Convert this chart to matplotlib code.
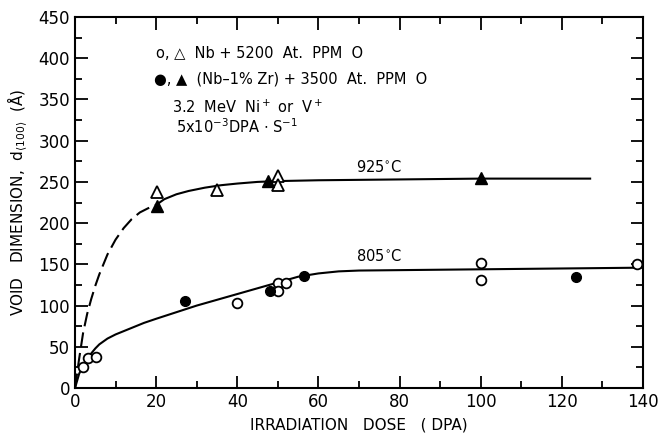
import numpy as np
import matplotlib
matplotlib.use("Agg")
import matplotlib.pyplot as plt

# open circles: Nb + 5200 at. ppm O, 805 C
nb_805_x = [2, 3.2, 5.2, 40, 50, 50, 52, 100, 100, 138.5]
nb_805_y = [25, 37, 38, 103, 128, 118, 127, 152, 131, 151]
# filled circles: (Nb-1% Zr) + 3500 at. ppm O, 805 C
zr_805_x = [27, 48, 56.5, 123.5]
zr_805_y = [106, 118, 136, 135]
# open triangles: Nb, 925 C
nb_925_x = [20.3, 35, 50, 50]
nb_925_y = [238, 240, 257, 246]
# filled triangles: Nb-1%Zr, 925 C
zr_925_x = [20.3, 47.5, 100]
zr_925_y = [221, 251, 255]

# hand-drawn trend lines
c925_dash_x = [0, 1, 2, 3, 4, 5, 6, 7, 8, 10, 12, 14, 16, 18, 20]
c925_dash_y = [0, 35, 67, 90, 108, 124, 138, 150, 162, 180, 194, 205, 213, 218, 222]
c925_x = [20, 22, 25, 28, 32, 36, 40, 45, 50, 60, 80, 100, 127]
c925_y = [222, 229, 235, 239, 243, 246, 248, 250, 251, 252, 253, 254, 254]
c805_x = [0, 1, 2, 3, 4, 5, 6, 8, 10, 13, 17, 20, 25, 30, 35, 40, 45, 50, 55,
          60, 65, 70, 80, 100, 140]
c805_y = [0, 17, 28, 35, 42, 48, 53, 60, 65, 71, 79, 84, 92, 100, 107, 114, 121,
          128, 135, 139, 141.5, 142.5, 143, 144, 146]

plt.figure(figsize=(6.58, 4.36), dpi=100)
ax = plt.axes([0.114, 0.110, 0.863, 0.851])

ax.plot(c925_dash_x, c925_dash_y, color='black', lw=1.5, ls=(0, (7, 3)))
ax.plot(c925_x, c925_y, color='black', lw=1.5)
ax.plot(c805_x, c805_y, color='black', lw=1.5)

ax.plot(nb_805_x, nb_805_y, 'o', ms=7, mfc='white', mec='black', mew=1.3, ls='none')
ax.plot(zr_805_x, zr_805_y, 'o', ms=7, mfc='black', mec='black', ls='none')
ax.plot(nb_925_x, nb_925_y, '^', ms=9, mfc='white', mec='black', mew=1.3, ls='none')
ax.plot(zr_925_x, zr_925_y, '^', ms=9, mfc='black', mec='black', ls='none')

ax.text(75, 268, '925$^{\\circ}$C', fontsize=10.5, ha='center', va='center')
ax.text(75, 160, '805$^{\\circ}$C', fontsize=10.5, ha='center', va='center')

ax.text(20, 406, 'o, \u25B3  Nb + 5200  At.  PPM  O', fontsize=10.5, va='center')
ax.text(19.5, 375, '\u25CF, \u25B2  (Nb\u20131% Zr) + 3500  At.  PPM  O', fontsize=10.5, va='center')
ax.text(24, 341, '3.2  MeV  Ni$^+$ or  V$^+$', fontsize=10.5, va='center')
ax.text(25, 317, '5x10$^{-3}$DPA $\\cdot$ S$^{-1}$', fontsize=10.5, va='center')

ax.set_xlim(0, 140)
ax.set_ylim(0, 450)
ax.set_xticks(np.arange(0, 141, 20))
ax.set_xticks(np.arange(0, 141, 10), minor=True)
ax.set_yticks(np.arange(0, 451, 50))
ax.set_yticks(np.arange(0, 451, 25), minor=True)
ax.tick_params(which='both', direction='in', top=True, right=True, width=1.3, labelsize=12)
ax.tick_params(which='major', length=9)
ax.tick_params(which='minor', length=5)
for s in ax.spines.values():
    s.set_linewidth(1.5)

ax.set_xlabel('IRRADIATION   DOSE   ( DPA)', fontsize=11, labelpad=5)
ax.set_ylabel('VOID   DIMENSION,  d$_{\\langle100\\rangle}$  (Å)', fontsize=11, labelpad=6)

plt.savefig('out.png', dpi=100)
